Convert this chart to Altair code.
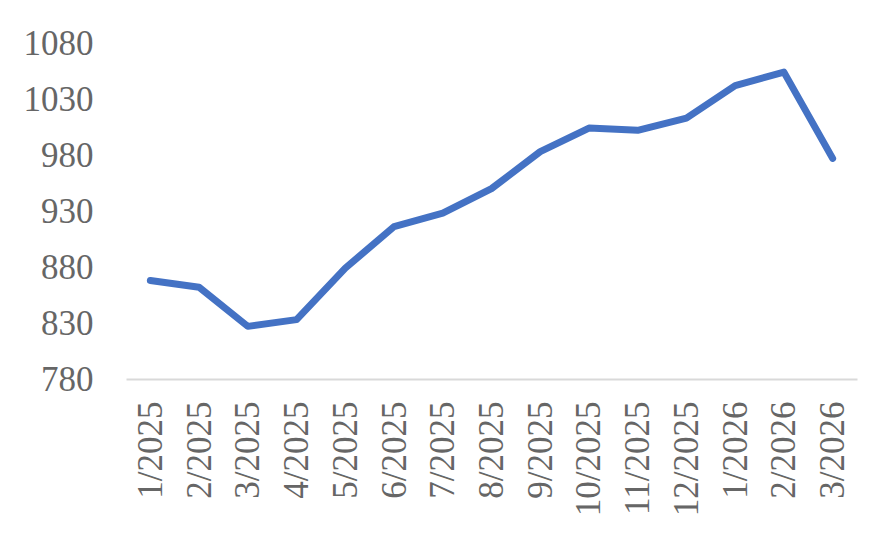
import altair as alt
import pandas as pd

months = ["1/2025", "2/2025", "3/2025", "4/2025", "5/2025", "6/2025", "7/2025",
          "8/2025", "9/2025", "10/2025", "11/2025", "12/2025", "1/2026", "2/2026", "3/2026"]
values = [868, 862, 827, 833, 879, 916, 928, 950, 983, 1004, 1002, 1013, 1042, 1054, 977]
y_ticks = [780, 830, 880, 930, 980, 1030, 1080]

df = pd.DataFrame({"month": months, "value": values})

font = "Liberation Serif"
label_color = "#666666"

chart = alt.Chart(df).mark_line(
    color="#4472C4", strokeWidth=7, strokeCap="round", strokeJoin="round"
).encode(
    x=alt.X("month:O", sort=months,
            scale=alt.Scale(type="point", padding=0.5),
            axis=alt.Axis(title=None, labelAngle=270, labelAlign="right",
                          labelBaseline="middle", labelPadding=22,
                          labelFont=font, labelFontSize=35, labelColor=label_color,
                          ticks=False, domainColor="#D9D9D9", domainWidth=2,
                          labelOverlap=False, grid=False)),
    y=alt.Y("value:Q",
            scale=alt.Scale(domain=[780, 1080], nice=False, zero=False),
            axis=alt.Axis(title=None, values=y_ticks, format="d", labelFont=font,
                          labelFontSize=35, labelColor=label_color, ticks=False,
                          domain=False, grid=False, labelPadding=33,
                          labelOverlap=False, labelFlush=False, labelBound=False)),
).properties(
    width=731, height=336,
    background="white",
    autosize=alt.AutoSizeParams(type="none"),
    padding={"left": 118, "top": 35, "right": 17, "bottom": 160},
).configure_view(strokeWidth=0, stroke=None)

chart.save("out.html", embed_options={"renderer": "svg", "actions": False})
